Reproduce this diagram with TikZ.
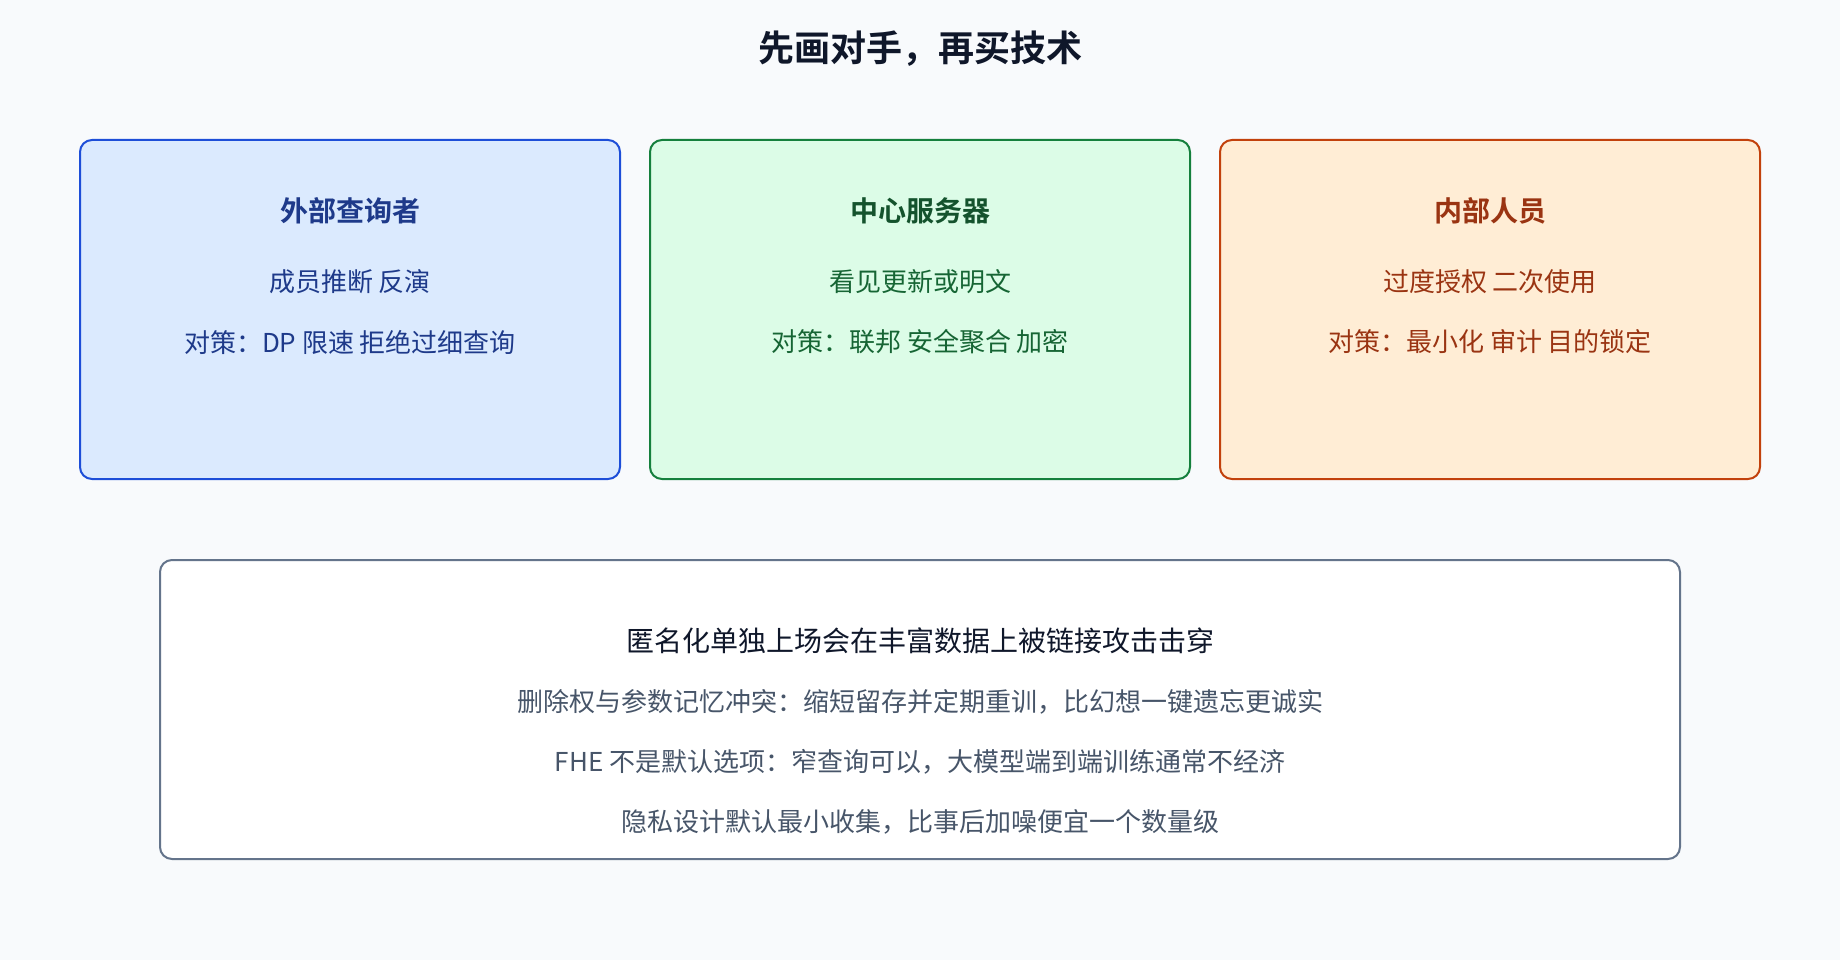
\documentclass[tikz,border=0pt]{standalone}
\usepackage{fontspec}
\setmainfont{Noto Sans CJK SC}[BoldFont={Noto Sans CJK SC Bold}]
\usetikzlibrary{positioning}

\definecolor{bgpage}{HTML}{F8FAFC}
\definecolor{ink}{HTML}{0F172A}
\definecolor{slate}{HTML}{475569}
\definecolor{slateline}{HTML}{64748B}
\definecolor{bluefill}{HTML}{DBEAFE}
\definecolor{blueline}{HTML}{1D4ED8}
\definecolor{bluetext}{HTML}{1E3A8A}
\definecolor{bluebody}{HTML}{1E3A8A}
\definecolor{greenfill}{HTML}{DCFCE7}
\definecolor{greenline}{HTML}{15803D}
\definecolor{greentext}{HTML}{14532D}
\definecolor{greenbody}{HTML}{166534}
\definecolor{orangefill}{HTML}{FFEDD5}
\definecolor{orangeline}{HTML}{C2410C}
\definecolor{orangetext}{HTML}{9A3412}
\definecolor{orangebody}{HTML}{9A3412}

\tikzset{
  card/.style={draw, line width=2pt, rounded corners=12pt, minimum width=540pt, minimum height=339pt, inner sep=0pt},
  cardhead/.style={font=\fontsize{28}{34}\selectfont\bfseries},
  cardline/.style={font=\fontsize{26}{32}\selectfont},
}

\begin{document}
\begin{tikzpicture}[x=1pt, y=-1pt]
\fill[bgpage] (0,0) rectangle (1840,960);
\useasboundingbox (0,0) rectangle (1840,960);

\node[font=\fontsize{36}{42}\selectfont\bfseries, text=ink] (title) at (920,49) {先画对手，再买技术};

% three adversaries
\node[card, draw=blueline, fill=bluefill] (ext) at (350,309.5) {};
\node[cardhead, text=bluetext] (exthead) at (350,211) {外部查询者};
\node[cardline, text=bluebody] (extrisk) at (350,282) {成员推断 反演};
\node[cardline, text=bluebody] (extfix) at (350,342) {对策：DP 限速 拒绝过细查询};

\node[card, draw=greenline, fill=greenfill] (srv) at (920,309.5) {};
\node[cardhead, text=greentext] (srvhead) at (920,211) {中心服务器};
\node[cardline, text=greenbody] (srvrisk) at (920,282) {看见更新或明文};
\node[cardline, text=greenbody] (srvfix) at (920,342) {对策：联邦 安全聚合 加密};

\node[card, draw=orangeline, fill=orangefill] (ins) at (1490,309.5) {};
\node[cardhead, text=orangetext] (inshead) at (1490,211) {内部人员};
\node[cardline, text=orangebody] (insrisk) at (1490,282) {过度授权 二次使用};
\node[cardline, text=orangebody] (insfix) at (1490,342) {对策：最小化 审计 目的锁定};

% lessons
\node[draw=slateline, line width=2pt, fill=white, rounded corners=12pt, minimum width=1520pt, minimum height=299pt] (lessons) at (920,709.5) {};
\node[font=\fontsize{28}{34}\selectfont, text=ink] (les1) at (920,641) {匿名化单独上场会在丰富数据上被链接攻击击穿};
\node[cardline, text=slate] (les2) at (920,702) {删除权与参数记忆冲突：缩短留存并定期重训，比幻想一键遗忘更诚实};
\node[cardline, text=slate] (les3) at (920,762) {FHE 不是默认选项：窄查询可以，大模型端到端训练通常不经济};
\node[cardline, text=slate] (les4) at (920,822) {隐私设计默认最小收集，比事后加噪便宜一个数量级};
\end{tikzpicture}
\end{document}
